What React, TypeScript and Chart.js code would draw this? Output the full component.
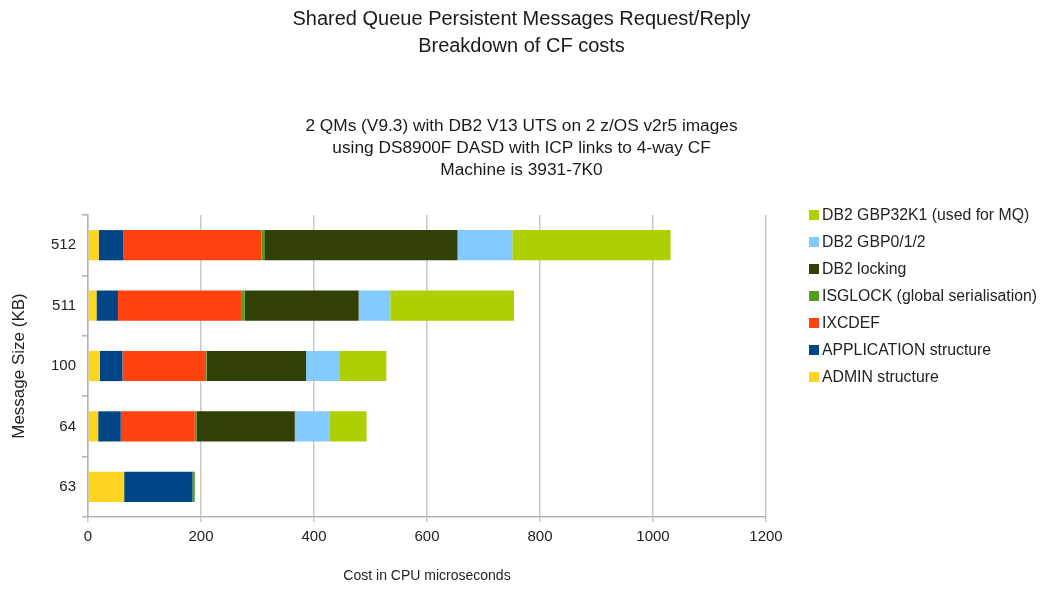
import React, { useEffect, useRef } from 'react';
import { Chart, registerables } from 'chart.js';

Chart.register(...registerables);

const categories = ['512', '511', '100', '64', '63'];

const seriesLabels = [
  'ADMIN structure',
  'APPLICATION structure',
  'IXCDEF',
  'ISGLOCK (global serialisation)',
  'DB2 locking',
  'DB2 GBP0/1/2',
  'DB2 GBP32K1 (used for MQ)',
];

const adminStructure = [19, 15, 21, 18, 64];
const applicationStructure = [43, 38, 40, 40, 121];
const ixcdef = [245, 218, 146, 131, 0];
const isglock = [5, 6, 3, 3, 4];
const db2Locking = [342, 202, 176, 174, 0];
const db2Gbp012 = [97, 56, 60, 62, 0];
const db2Gbp32k1 = [280, 219, 82, 65, 0];

const seriesColors = ['#FFD320', '#004586', '#FF420E', '#579D1C', '#314004', '#83CAFF', '#AECF00'];

const xMin = 0;
const xMax = 1200;
const xStep = 200;

const titleLines = ['Shared Queue Persistent Messages Request/Reply', 'Breakdown of CF costs'];
const subtitleLines = [
  '2 QMs (V9.3) with DB2 V13 UTS on 2 z/OS v2r5 images',
  'using DS8900F DASD with ICP links to 4-way CF',
  'Machine is 3931-7K0',
];
const xTitle = 'Cost in CPU microseconds';
const yTitle = 'Message Size (KB)';

const FONT = '"Liberation Sans", Arial, Helvetica, sans-serif';

const headingPlugin = {
  id: 'headings',
  afterDraw(chart: any) {
    const ctx = chart.ctx;
    const cx = chart.width / 2;
    ctx.save();
    ctx.textAlign = 'center';
    ctx.textBaseline = 'middle';
    ctx.fillStyle = '#1a1a1a';
    ctx.font = `20px ${FONT}`;
    titleLines.forEach((t, i) => ctx.fillText(t, cx, 19 + i * 27));
    ctx.font = `17.3px ${FONT}`;
    subtitleLines.forEach((t, i) => ctx.fillText(t, cx, 126 + i * 22));
    ctx.restore();
  },
};

const legendPlugin = {
  id: 'customLegend',
  afterDraw(chart: any) {
    const ctx = chart.ctx;
    const ds = chart.data.datasets;
    ctx.save();
    ctx.font = `15.8px ${FONT}`;
    ctx.textBaseline = 'middle';
    ctx.textAlign = 'left';
    const x = 809;
    const y0 = 215;
    const gap = 27;
    for (let i = ds.length - 1, row = 0; i >= 0; i--, row++) {
      const y = y0 + row * gap;
      ctx.fillStyle = ds[i].backgroundColor;
      ctx.fillRect(x, y - 5, 10, 10);
      ctx.fillStyle = '#222222';
      ctx.fillText(ds[i].label, x + 13, y + 1);
    }
    ctx.restore();
  },
};

export default function App() {
  const canvasRef = useRef<HTMLCanvasElement | null>(null);

  useEffect(() => {
    if (!canvasRef.current) return;
    const seriesData = [adminStructure, applicationStructure, ixcdef, isglock, db2Locking, db2Gbp012, db2Gbp32k1];
    const chart = new Chart(canvasRef.current, {
      type: 'bar',
      data: {
        labels: categories,
        datasets: seriesData.map((d, i) => ({
          label: seriesLabels[i],
          data: d,
          backgroundColor: seriesColors[i],
          borderWidth: 0,
          barPercentage: 1,
          categoryPercentage: 0.5,
        })),
      },
      options: {
        indexAxis: 'y',
        responsive: false,
        animation: false,
        layout: { padding: { left: 0, right: 277, top: 215, bottom: 0 } },
        plugins: {
          legend: { display: false },
          tooltip: { enabled: false },
          title: { display: false },
        },
        scales: {
          x: {
            stacked: true,
            min: xMin,
            max: xMax,
            ticks: {
              stepSize: xStep,
              color: '#222222',
              font: { family: FONT, size: 15 },
              padding: 6,
              callback: (v: any) => String(v),
            },
            grid: { color: '#c8c8c8', lineWidth: 1.5, tickLength: 5 },
            border: { color: '#b3b3b3', width: 1.5 },
            title: {
              display: true,
              text: xTitle,
              color: '#222222',
              font: { family: FONT, size: 14 },
              padding: { top: 0, bottom: 5 },
            },
            afterFit: (axis: any) => {
              axis.height = 73;
              axis.paddingLeft = 0;
              axis.paddingRight = 0;
            },
          },
          y: {
            stacked: true,
            ticks: {
              color: '#222222',
              font: { family: FONT, size: 15 },
              padding: 6,
            },
            grid: { drawOnChartArea: false, color: '#b3b3b3', lineWidth: 1.5, tickLength: 6 },
            border: { color: '#b3b3b3', width: 1.5 },
            title: {
              display: true,
              text: yTitle,
              color: '#222222',
              font: { family: FONT, size: 17 },
              padding: { top: 9, bottom: 0 },
            },
            afterFit: (axis: any) => {
              axis.width = 88;
              axis.paddingTop = 0;
              axis.paddingBottom = 0;
            },
          },
        },
      },
      plugins: [headingPlugin, legendPlugin],
    });
    return () => chart.destroy();
  }, []);

  return (
    <div style={{ position: 'absolute', left: 0, top: 0, width: 1043, height: 590, background: '#ffffff' }}>
      <canvas ref={canvasRef} width={1043} height={590} style={{ display: 'block' }} />
    </div>
  );
}
